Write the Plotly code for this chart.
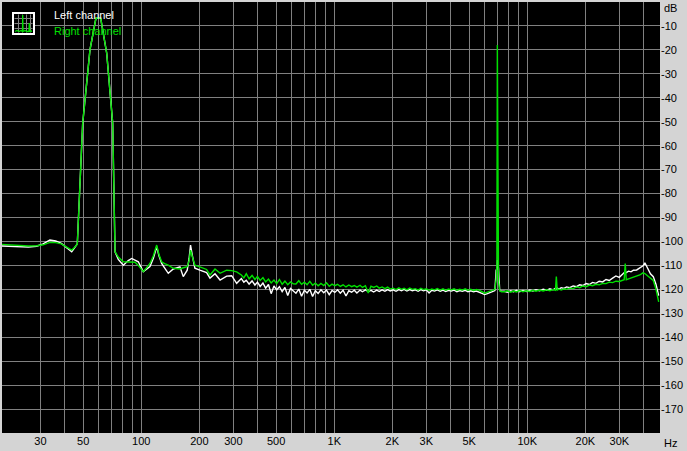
import plotly.graph_objects as go

# ---------------- data ----------------
freq_hz = [
    18.9, 21, 23.5, 26, 28.7, 31, 33.6, 36, 38.5, 41, 43.6, 45, 46.6,
    49.7, 54.2, 58.2, 61.6, 66.2, 71.1, 73.1,
    76.0, 80.7, 85.6, 89.2, 92.8, 96.5, 102.4, 106, 110.9, 115.5, 120.2, 123.5, 127.5,
    132, 138, 146.5, 158.6, 165, 173, 177, 180, 184, 189.6, 201, 218, 227, 241, 256,
    277, 294, 312,
    330, 340, 350, 362, 375, 388, 400, 413, 427, 441, 456, 471, 487, 503, 520, 537,
    555, 574, 593, 613, 633, 655, 677, 700, 723, 747, 772, 798, 825, 853, 882, 911,
    942, 974, 1007, 1040, 1075, 1111, 1150, 1190, 1230, 1270, 1310, 1360, 1400, 1450,
    1500, 1550, 1600, 1660, 1710, 1770, 1830, 1890, 1950, 2020, 2090, 2160, 2230, 2300,
    2380, 2460, 2540, 2630, 2720, 2810, 2900, 3000, 3100, 3200, 3310, 3420, 3540, 3660,
    3780, 3910, 4040, 4180, 4320, 4460, 4610, 4770, 4930, 5100, 5270, 5450, 5630, 5820,
    6020, 6220, 6430, 6650, 6800, 6900, 6960, 7000, 7040, 7100, 7200, 7350,
    7600, 7900, 8200, 8500, 8800, 9100, 9500, 9900, 10300, 10700, 11100, 11600, 12100,
    12600, 13100, 13600, 14000, 14150, 14300, 14600, 15000, 15500, 16000, 16600, 17300,
    18000, 18700, 19400, 20200, 21000, 21800, 22700, 23600, 24600, 25600, 26600, 27700,
    28800, 30000, 31000, 31800, 32200, 32600, 33500, 34500, 35500, 36900, 38300, 39800,
    40700, 42000, 43500, 45000, 46500, 48000,
]

left_db = [
    -101.9, -102.0, -102.3, -102.3, -102.0, -101.0, -99.4, -99.8, -100.8, -102.5, -104.3, -102.8, -101.0,
    -50.7, -20.0, -6.8, -6.8, -21.4, -50.7, -104.3,
    -107.5, -109.9, -108.0, -107.1, -107.8, -108.5, -112.6, -111.8, -110.5, -107.0, -102.2, -106.0, -109.2,
    -111.0, -113.3, -111.5, -110.6, -114.7, -112.0, -107.0, -101.5, -106.0, -111.2, -112.0, -113.0, -115.3, -113.5, -116.1,
    -114.5, -114.3, -117.5,
    -115.5, -117.0, -116.2, -117.8, -116.5, -118.2, -117.0, -118.8, -117.4, -119.5, -118.0, -121.8, -118.6, -120.2, -118.9, -121.0,
    -119.2, -122.6, -119.6, -120.8, -121.6, -119.9, -122.9, -120.4, -121.5, -120.0, -123.0, -120.6, -121.7, -120.2, -121.4, -120.3,
    -122.2, -120.5, -121.3, -120.2, -121.6, -120.4, -122.8, -120.6, -121.2, -120.4, -121.5, -120.3, -121.0, -120.2,
    -120.9, -120.4, -121.1, -120.3, -120.9, -120.2, -120.8, -120.1, -120.7, -120.2, -120.8, -120.1, -120.6, -120.0,
    -120.7, -120.1, -120.6, -120.2, -120.8, -120.1, -120.6, -120.2, -121.5, -120.4, -120.7, -120.2, -120.8, -120.3,
    -120.9, -120.4, -120.7, -120.3, -121.0, -120.5, -120.8, -120.4, -121.0, -120.6, -121.0, -120.7, -121.2, -121.8,
    -122.2, -121.8, -121.3, -120.9, -120.5, -112.0, -111.5, -107.8, -110.0, -111.2, -120.5, -120.8,
    -120.8, -121.2, -120.6, -121.0, -120.4, -121.0, -120.5, -120.9, -120.3, -120.7, -120.2, -120.6, -120.0,
    -120.4, -119.8, -120.2, -119.6, -119.8, -119.5, -119.9, -119.3, -119.6, -119.0, -119.3, -118.6,
    -118.9, -118.1, -118.4, -117.6, -118.0, -117.1, -117.5, -116.6, -116.9, -115.9, -116.3, -115.3,
    -114.4, -115.0, -113.8, -113.2, -112.6, -113.0, -112.4, -112.7, -112.0, -111.9, -111.0, -110.2,
    -108.9, -111.0, -113.5, -114.7, -118.0, -122.6,
]

right_db = [
    -101.2, -101.5, -101.8, -101.9, -101.8, -101.4, -100.4, -100.5, -101.0, -102.2, -103.6, -102.5, -101.2,
    -50.7, -20.0, -6.8, -6.8, -21.4, -50.7, -104.3,
    -106.5, -108.5, -108.7, -108.7, -108.7, -110.0, -112.6, -111.2, -109.2, -106.0, -101.5, -105.5, -108.5,
    -109.3, -109.9, -111.2, -111.5, -111.0, -110.5, -108.0, -103.6, -106.5, -109.9, -110.6, -111.7, -114.0, -111.5, -113.3,
    -112.0, -112.2, -112.7,
    -114.0, -115.2, -113.5, -115.6, -114.2, -115.9, -114.6, -116.3, -115.1, -116.9, -115.7, -117.3, -116.1, -117.6, -115.9, -117.9,
    -116.6, -118.1, -116.9, -117.7, -117.8, -116.4, -117.9, -117.0, -118.1, -116.7, -118.3, -117.4, -118.5, -117.5, -118.4, -117.3,
    -118.7, -117.8, -118.5, -117.9, -118.8, -118.1, -119.0, -118.2, -118.9, -118.4, -119.1, -118.3, -119.2, -118.5,
    -121.5, -118.7, -119.2, -118.6, -119.5, -119.0, -119.7, -119.1, -119.9, -119.5, -120.1, -119.4, -120.0, -119.6,
    -120.2, -119.5, -120.0, -119.7, -120.3, -119.6, -120.1, -119.8, -120.4, -119.9, -120.2, -119.7, -120.3, -119.8,
    -120.4, -119.9, -120.2, -119.8, -120.4, -120.0, -120.3, -119.8, -120.4, -120.0, -120.5, -120.1, -120.3, -121.0,
    -121.6, -121.2, -120.8, -120.4, -120.0, -116.0, -110.0, -18.0, -110.0, -117.0, -120.5, -121.0,
    -121.0, -120.6, -121.2, -120.7, -121.1, -120.5, -121.0, -120.6, -120.9, -120.4, -120.8, -120.3, -120.7,
    -120.2, -120.6, -120.1, -120.4, -114.7, -120.3, -119.9, -120.3, -119.8, -120.0, -119.5, -119.7,
    -119.0, -119.3, -118.6, -118.9, -118.2, -118.5, -117.9, -118.1, -117.5, -117.6, -117.0, -117.2,
    -116.6, -116.7, -116.2, -116.0, -109.2, -116.0, -115.6, -115.2, -115.0, -114.6, -114.0, -113.1,
    -113.4, -114.3, -115.2, -116.3, -120.0, -125.2,
]

grid_freqs = [30, 40, 50, 60, 70, 80, 90,
              100, 200, 300, 400, 500, 600, 700, 800, 900,
              1000, 2000, 3000, 4000, 5000, 6000, 7000, 8000, 9000,
              10000, 20000, 30000, 40000]
freq_labels = {30: "30", 50: "50", 100: "100", 200: "200", 300: "300", 500: "500",
               1000: "1K", 2000: "2K", 3000: "3K", 5000: "5K",
               10000: "10K", 20000: "20K", 30000: "30K"}
db_ticks = [-170, -160, -150, -140, -130, -120, -110, -100, -90, -80,
            -70, -60, -50, -40, -30, -20, -10]

# ---------------- figure ----------------
W, H = 687, 451
ML, MR, MT, MB = 2, 27, 2, 18
PW, PH = W - ML - MR, H - MT - MB

def px(x):
    return (x - ML) / PW

def py(y):
    return 1 - (y - MT) / PH

FONT = "Liberation Sans, Arial, sans-serif"
GREEN = "#00e000"

fig = go.Figure()
fig.add_trace(go.Scatter(x=freq_hz, y=left_db, mode="lines", name="Left channel",
                         line=dict(color="#ffffff", width=1.4)))
fig.add_trace(go.Scatter(x=freq_hz, y=right_db, mode="lines", name="Right channel",
                         line=dict(color=GREEN, width=1.4)))

shapes = []
# legend icon
shapes.append(dict(type="rect", xref="paper", yref="paper",
                   x0=px(13), x1=px(34), y0=py(34), y1=py(13),
                   line=dict(color="#ffffff", width=2), fillcolor="#000000", layer="above"))
for gx in [18.5, 22.5, 26.5, 30.5]:
    shapes.append(dict(type="line", xref="paper", yref="paper",
                       x0=px(gx), x1=px(gx), y0=py(32.5), y1=py(14.5),
                       line=dict(color="#808080", width=1), layer="above"))
for gy in [18.5, 23.5, 28.5]:
    shapes.append(dict(type="line", xref="paper", yref="paper",
                       x0=px(14.5), x1=px(32.5), y0=py(gy), y1=py(gy),
                       line=dict(color="#808080", width=1), layer="above"))
icon_pts = [(15, 31.5), (17, 30.5), (19, 31.5), (21, 30.5), (22.5, 31.5), (22.7, 15),
            (23, 31.5), (25, 30.5), (27, 31.5), (29, 31.5), (29.3, 23), (29.7, 31.5), (32, 31)]
path = "M " + " L ".join(f"{px(a):.5f},{py(b):.5f}" for a, b in icon_pts)
shapes.append(dict(type="path", xref="paper", yref="paper", path=path,
                   line=dict(color=GREEN, width=1.3), layer="above"))

annotations = [
    dict(text="Left channel", x=px(52), y=py(15), xref="paper", yref="paper",
         xanchor="left", yanchor="middle", showarrow=False,
         font=dict(family=FONT, size=11, color="#ffffff")),
    dict(text="Right channel", x=px(52), y=py(31), xref="paper", yref="paper",
         xanchor="left", yanchor="middle", showarrow=False,
         font=dict(family=FONT, size=11, color=GREEN)),
    dict(text="dB", x=px(662), y=py(8), xref="paper", yref="paper",
         xanchor="left", yanchor="middle", showarrow=False,
         font=dict(family=FONT, size=11, color="#000000")),
    dict(text="Hz", x=px(662), y=py(443), xref="paper", yref="paper",
         xanchor="left", yanchor="middle", showarrow=False,
         font=dict(family=FONT, size=11, color="#000000")),
]

fig.update_layout(
    width=W, height=H,
    margin=dict(l=ML, r=MR, t=MT, b=MB, pad=0, autoexpand=False),
    paper_bgcolor="#d4d4d4", plot_bgcolor="#000000",
    showlegend=False,
    shapes=shapes, annotations=annotations,
    xaxis=dict(type="log", range=[1.2782, 4.688],
               tickmode="array", tickvals=grid_freqs,
               ticktext=[freq_labels.get(f, "") for f in grid_freqs],
               showgrid=True, gridcolor="#808080", gridwidth=1,
               zeroline=False, ticks="", showline=False, automargin=False,
               tickfont=dict(family=FONT, size=11, color="#000000")),
    yaxis=dict(range=[-180, 0], side="right",
               tickmode="array", tickvals=db_ticks,
               ticktext=[str(v) for v in db_ticks],
               showgrid=True, gridcolor="#808080", gridwidth=1,
               zeroline=False, ticks="", showline=False, automargin=False,
               tickfont=dict(family=FONT, size=11, color="#000000")),
)

fig.write_html("out.html", config={"displayModeBar": False},
               post_script="document.body.style.margin='0px';document.body.style.padding='0px';")
